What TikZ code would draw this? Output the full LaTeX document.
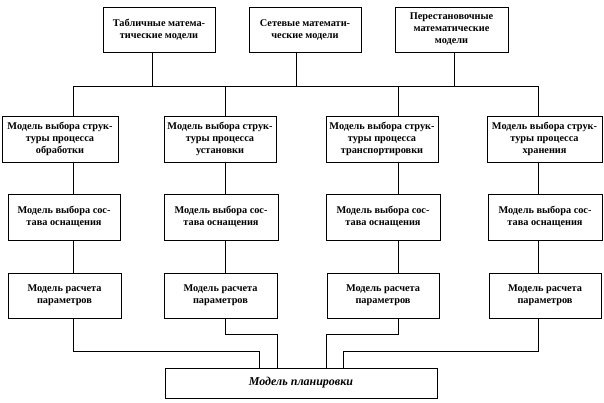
\documentclass[tikz,border=0pt]{standalone}
\usepackage{fontspec}
\setmainfont{Liberation Serif}

\begin{document}
\begin{tikzpicture}[x=1pt,y=-1pt,
  blok/.style={draw, line width=0.9pt, inner sep=1pt, align=center, font=\bfseries\fontsize{10.3}{12}\selectfont},
  link/.style={line width=0.9pt}]

\useasboundingbox (0,0) rectangle (604,402);

%top row: mathematical models
\node[blok, minimum width=112pt, minimum height=45pt] (tab) at (159,29.5) {Табличные матема-\\тические модели};
\node[blok, minimum width=112pt, minimum height=45pt] (set) at (305,29.5) {Сетевые математи-\\ческие модели};
\node[blok, minimum width=113pt, minimum height=45pt] (per) at (451.5,29.5) {Перестановочные\\математические\\модели};

%column positions on the bus
\coordinate (cA) at (73,86);
\coordinate (cB) at (225,86);
\coordinate (cC) at (398,86);
\coordinate (cD) at (538,86);

\draw[link] (cA) -- (cD);
\draw[link] ([xshift=-7pt]tab.south) -- ([xshift=-7pt]tab.south |- cA);
\draw[link] ([xshift=-9pt]set.south) -- ([xshift=-9pt]set.south |- cA);
\draw[link] ([xshift=2.5pt]per.south) -- ([xshift=2.5pt]per.south |- cA);

%second row: structure of the process
\node[blok, minimum width=116pt, minimum height=46pt] (mA) at (60,139) {Модель выбора струк-\\туры процесса\\обработки};
\node[blok, minimum width=112pt, minimum height=46pt] (mB) at (220,139) {Модель выбора струк-\\туры процесса\\установки};
\node[blok, minimum width=112pt, minimum height=46pt] (mC) at (382,139) {Модель выбора струк-\\туры процесса\\транспортировки};
\node[blok, minimum width=115pt, minimum height=46pt] (mD) at (544.5,139) {Модель выбора струк-\\туры процесса\\хранения};

%third row: equipment
\node[blok, minimum width=112pt, minimum height=46pt] (sA) at (64,217) {Модель выбора сос-\\тава оснащения};
\node[blok, minimum width=114pt, minimum height=46pt] (sB) at (221,217) {Модель выбора сос-\\тава оснащения};
\node[blok, minimum width=114pt, minimum height=46pt] (sC) at (383,217) {Модель выбора сос-\\тава оснащения};
\node[blok, minimum width=114pt, minimum height=46pt] (sD) at (545,217) {Модель выбора сос-\\тава оснащения};

%fourth row: parameters
\node[blok, minimum width=113pt, minimum height=45pt] (rA) at (64.5,295.5) {Модель расчета\\параметров};
\node[blok, minimum width=113pt, minimum height=45pt] (rB) at (220.5,295.5) {Модель расчета\\параметров};
\node[blok, minimum width=112pt, minimum height=45pt] (rC) at (383,295.5) {Модель расчета\\параметров};
\node[blok, minimum width=112pt, minimum height=45pt] (rD) at (545,295.5) {Модель расчета\\параметров};

%bottom box
\node[blok, font=\bfseries\itshape\fontsize{12}{14}\selectfont, minimum width=272pt, minimum height=30pt] (plan) at (301,383) {Модель планировки};

%vertical links in the columns
\draw[link] (mA.north -| cA) -- (cA);
\draw[link] (mB.north -| cB) -- (cB);
\draw[link] (mC.north -| cC) -- (cC);
\draw[link] (mD.north -| cD) -- (cD);

\draw[link] (mA.south -| cA) -- (sA.north -| cA);
\draw[link] (mB.south -| cB) -- (sB.north -| cB);
\draw[link] (mC.south -| cC) -- (sC.north -| cC);
\draw[link] (mD.south -| cD) -- (sD.north -| cD);

\draw[link] (sA.south -| cA) -- (rA.north -| cA);
\draw[link] (sB.south -| cB) -- (rB.north -| cB);
\draw[link] (sC.south -| cC) -- (rC.north -| cC);
\draw[link] (sD.south -| cD) -- (rD.north -| cD);

%links down to the bottom box
\coordinate (jA) at (259,351);
\coordinate (jB) at (277,334);
\coordinate (jC) at (326,334);
\coordinate (jD) at (343,351);

\draw[link] (rA.south -| cA) |- (jA) -- (jA |- plan.north);
\draw[link] (rB.south -| cB) |- (jB) -- (jB |- plan.north);
\draw[link] (rC.south -| cC) |- (jC) -- (jC |- plan.north);
\draw[link] (rD.south -| cD) |- (jD) -- (jD |- plan.north);

\end{tikzpicture}
\end{document}
